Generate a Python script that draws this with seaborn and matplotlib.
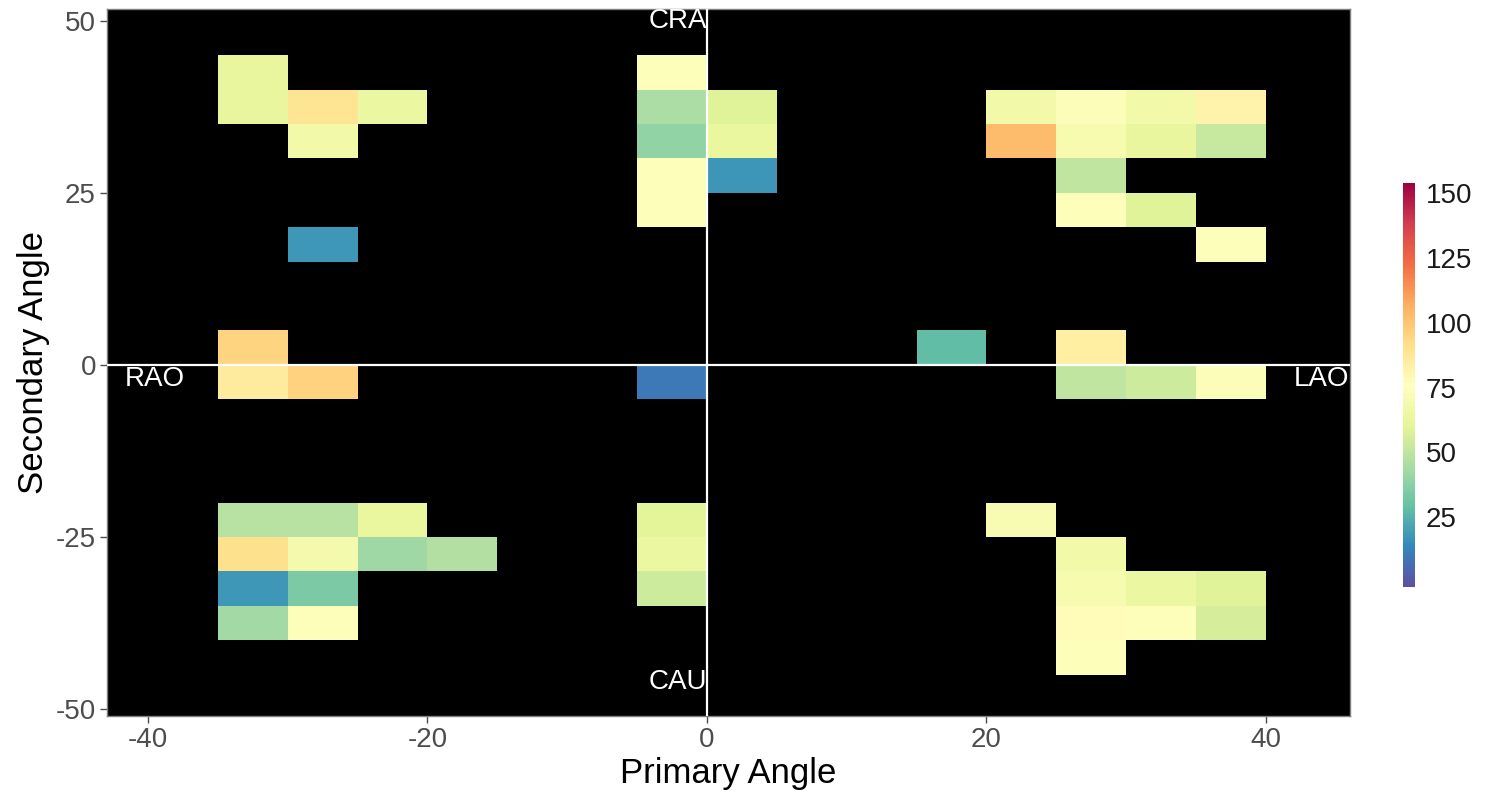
import numpy as np
import pandas as pd
import matplotlib
matplotlib.use("Agg")
import matplotlib.pyplot as plt
import seaborn as sns

# Tile lower-left corners (primary, secondary) in degrees, 5x5 bins, and values
primary = [
    -35, -35, -30, -25, -30, -30, -35, -35, -30,
    -5, -5, -5, -5, -5, 0, 0, 0, -5,
    20, 25, 30, 35, 20, 25, 30, 35, 25, 25, 30, 35,
    15, 25, 25, 30, 35,
    -35, -30, -25, -35, -30, -25, -20, -35, -30, -35, -30,
    -5, -5, -5,
    20, 25, 25, 30, 35, 25, 30, 35, 25,
]
secondary = [
    40, 35, 35, 35, 30, 15, 0, -5, -5,
    40, 35, 30, 25, 20, 35, 30, 25, -5,
    35, 35, 35, 35, 30, 30, 30, 30, 25, 20, 20, 15,
    0, 0, -5, -5, -5,
    -25, -25, -25, -30, -30, -30, -30, -35, -35, -40, -40,
    -25, -30, -35,
    -25, -30, -35, -35, -35, -40, -40, -40, -45,
]
values = [
    62, 62, 89, 64, 68, 18, 95, 86, 96,
    74, 45, 39, 74, 74, 59, 63, 17, 10,
    68, 73, 68, 82, 103, 70, 62, 52, 50, 74, 59, 74,
    28, 84, 50, 54, 73,
    48, 48, 63, 91, 69, 42, 47, 18, 34, 43, 74,
    60, 64, 54,
    71, 68, 70, 64, 59, 78, 74, 56, 74,
]
color_limits = [-2, 154]
cbar_ticks = [25, 50, 75, 100, 125, 150]
annotations = [("CRA", 0, 50, "right"), ("CAU", 0, -46, "right"),
               ("RAO", -39.5, -2, "center"), ("LAO", 44, -2, "center")]

df = pd.DataFrame({
    "Primary": np.array(primary) + 2.5,
    "Secondary": np.array(secondary) + 2.5,
    "value": values,
})

sns.set_style("white")
plt.rcParams["font.family"] = ["Liberation Sans", "DejaVu Sans"]
plt.rcParams["axes.unicode_minus"] = False

fig = plt.figure(figsize=(14.85, 7.96), dpi=100)
ax = fig.add_axes([107 / 1485, (796 - 716) / 796, (1350 - 107) / 1485, (716 - 9) / 796])
cax = fig.add_axes([1403 / 1485, (796 - 587) / 796, 12 / 1485, 404 / 796])

ax.set_facecolor("black")
sns.histplot(data=df, x="Primary", y="Secondary", weights="value",
             binwidth=5, binrange=((-35, 40), (-45, 45)),
             cmap="Spectral_r", vmin=color_limits[0], vmax=color_limits[1],
             cbar=False, ax=ax)
mesh = ax.collections[0]
mesh.set_clim(*color_limits)

ax.axhline(0, color="white", lw=1.6, zorder=3)
ax.axvline(0, color="white", lw=1.6, zorder=3)

for txt, x, y, ha in annotations:
    ax.text(x, y, txt, color="white", fontsize=20, ha=ha, va="center",
            zorder=4, clip_on=False)

ax.set_xlim(-42.93, 46.01)
ax.set_ylim(-51.0, 51.7)
ax.set_xticks([-40, -20, 0, 20, 40])
ax.set_yticks([-50, -25, 0, 25, 50])
ax.tick_params(axis="both", labelsize=20, labelcolor="#4D4D4D", color="#4D4D4D",
               length=5, width=1, pad=3, bottom=True, left=True)
ax.set_xlabel("Primary Angle", fontsize=25, color="black", labelpad=3)
ax.set_ylabel("Secondary Angle", fontsize=25, color="black", labelpad=4)
for s in ax.spines.values():
    s.set_color("#7F7F7F")
    s.set_linewidth(1)

cb = fig.colorbar(mesh, cax=cax)
cb.set_ticks(cbar_ticks)
cb.outline.set_visible(False)
cb.ax.tick_params(labelsize=20, labelcolor="#1A1A1A", length=0, pad=8)

fig.savefig("out.png", dpi=100)
